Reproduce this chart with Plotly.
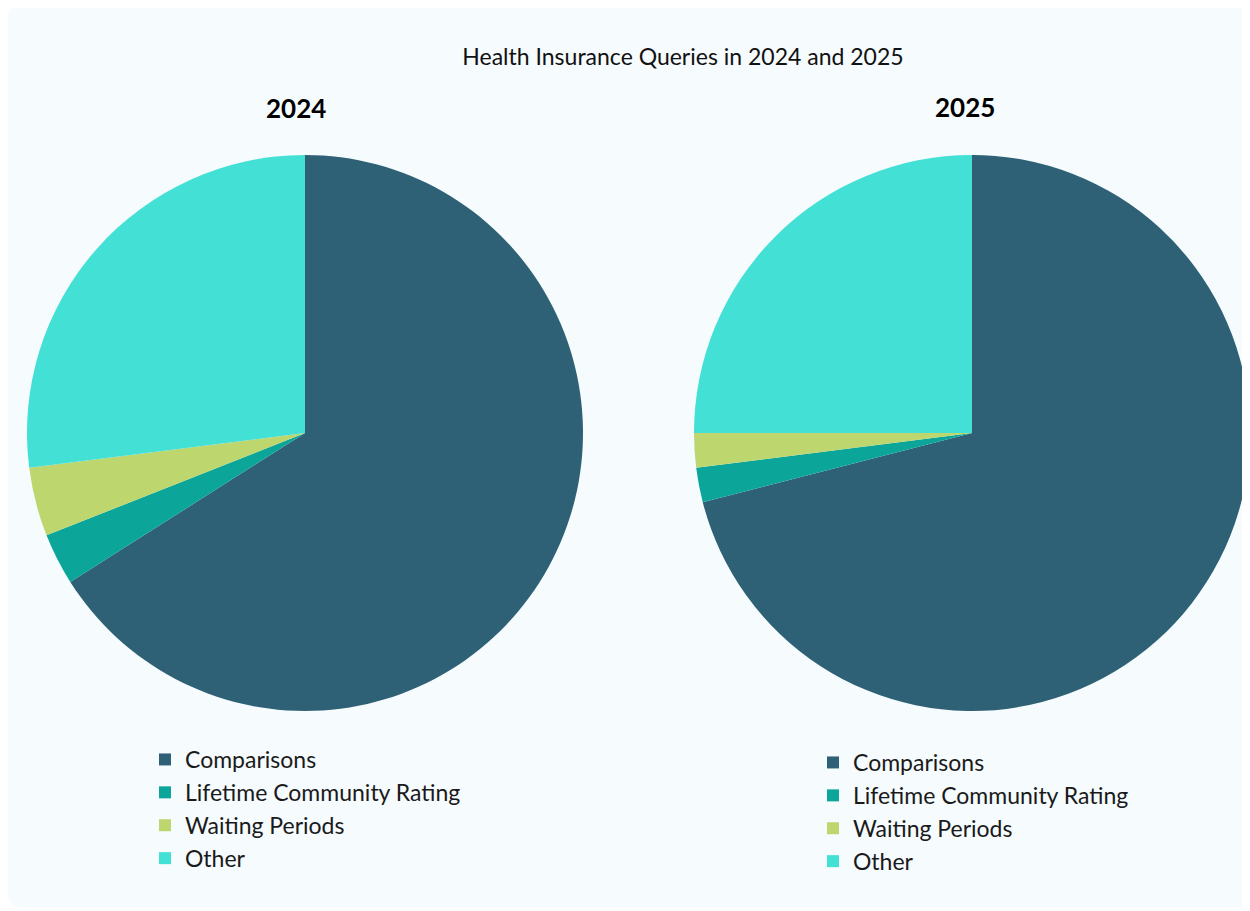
import plotly.graph_objects as go

categories = ["Comparisons", "Lifetime Community Rating", "Waiting Periods", "Other"]
values_2024 = [66, 3, 4, 27]
values_2025 = [71, 2, 2, 25]
colors = ["#2e6175", "#0ba699", "#bdd66e", "#43e0d5"]
pie_titles = ["2024", "2025"]
chart_title = "Health Insurance Queries in 2024 and 2025"

OFF = 8  # page body margin
W, H = 1250 - OFF, 911 - OFF
FONT = "Lato, 'Source Sans Pro', 'Noto Sans', sans-serif"

def px(x):
    return (x - OFF) / W

def py(y):
    return 1 - (y - OFF) / H

fig = go.Figure()
fig.add_trace(go.Pie(
    labels=categories, values=values_2024, sort=False, direction="clockwise",
    rotation=0, marker=dict(colors=colors), textinfo="none",
    domain=dict(x=[px(27), px(583)], y=[py(711), py(155)]),
    legend="legend", legendgroup="g2024", name=pie_titles[0],
))
fig.add_trace(go.Pie(
    labels=categories, values=values_2025, sort=False, direction="clockwise",
    rotation=0, marker=dict(colors=colors), textinfo="none",
    domain=dict(x=[px(694), 1.0], y=[py(713), py(153)]),
    legend="legend2", legendgroup="g2025", name=pie_titles[1],
))

# rounded card background
x0, x1, y0, y1 = px(7), px(1262), py(907), py(4)
rx, ry = 16 / W, 16 / H
path = (f"M{x0+rx},{y1} L{x1-rx},{y1} Q{x1},{y1} {x1},{y1-ry} "
        f"L{x1},{y0+ry} Q{x1},{y0} {x1-rx},{y0} L{x0+rx},{y0} "
        f"Q{x0},{y0} {x0},{y0+ry} L{x0},{y1-ry} Q{x0},{y1} {x0+rx},{y1} Z")

legend_common = dict(
    font=dict(family=FONT, size=23, color="#1a1a1a"),
    bgcolor="rgba(0,0,0,0)", orientation="v",
    xanchor="left", yanchor="top", tracegroupgap=0,
)

fig.update_layout(
    width=W, height=H,
    margin=dict(l=0, r=0, t=0, b=0),
    paper_bgcolor="#ffffff",
    font=dict(family=FONT),
    title=dict(text=chart_title, x=px(683), xanchor="center",
               y=py(57), yanchor="middle", yref="container",
               font=dict(family=FONT, size=23, color="#111111")),
    shapes=[dict(type="path", path=path, xref="paper", yref="paper",
                 fillcolor="#f6fbfe", line=dict(width=0), layer="below")],
    annotations=[
        dict(text=f"<b>{pie_titles[0]}</b>", x=px(296), y=py(108), xref="paper", yref="paper",
             showarrow=False, xanchor="center", yanchor="middle",
             font=dict(family=FONT, size=26, color="#000000")),
        dict(text=f"<b>{pie_titles[1]}</b>", x=px(965), y=py(107), xref="paper", yref="paper",
             showarrow=False, xanchor="center", yanchor="middle",
             font=dict(family=FONT, size=26, color="#000000")),
    ],
    legend=dict(x=px(145), y=py(738), **legend_common),
    legend2=dict(x=px(813), y=py(741), **legend_common),
)

fig.write_html("out.html")
